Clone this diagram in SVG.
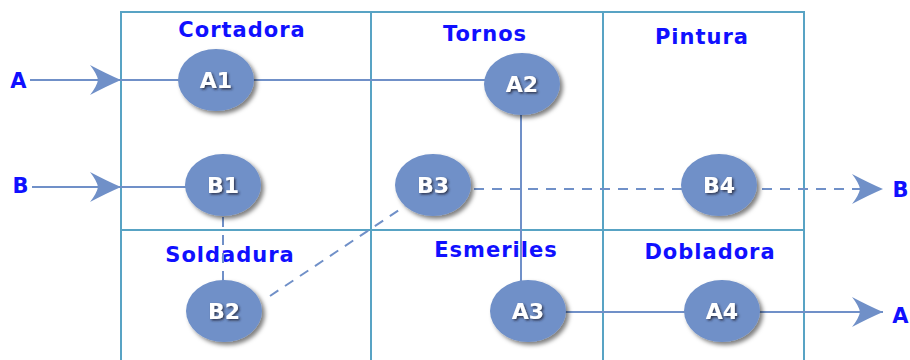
<svg xmlns="http://www.w3.org/2000/svg" width="910" height="360" viewBox="0 0 910 360">
<defs>
<style>
.grid{stroke:#58a3c4;stroke-width:2;fill:none}
.con{stroke:#7090c8;stroke-width:2;fill:none}
.dash{stroke-dasharray:10 8}
.lbl{font-family:"DejaVu Sans",sans-serif;font-weight:bold;font-size:21px;fill:#1010ff;letter-spacing:1px;text-anchor:middle}
.nd{fill:#7090c8;filter:url(#sh)}
.nt{font-family:"DejaVu Sans",sans-serif;font-weight:bold;font-size:22px;fill:#ffffff;text-anchor:middle;filter:url(#ts)}
</style>
<filter id="sh" x="-30%" y="-30%" width="170%" height="170%">
<feDropShadow dx="3" dy="3" stdDeviation="2" flood-color="#000" flood-opacity="0.5"/>
</filter>
<filter id="ts" x="-30%" y="-30%" width="170%" height="170%">
<feDropShadow dx="1.5" dy="1.5" stdDeviation="1" flood-color="#223" flood-opacity="0.8"/>
</filter>
<marker id="arr" markerUnits="userSpaceOnUse" markerWidth="34" markerHeight="34" refX="32" refY="16" orient="auto" viewBox="0 0 34 34">
<path d="M32,16 Q18,10 1,1 Q8,10 9,16 Q8,22 1,31 Q18,22 32,16 Z" fill="#7090c8"/>
</marker>
</defs>
<g id="grid">
<path class="grid" d="M121,360 V12 H804 V360 M371,12 V360 M603,12 V360 M121,230 H804"/>
</g>
<g id="labels">
<text class="lbl" x="242" y="37">Cortadora</text>
<text class="lbl" x="485" y="41">Tornos</text>
<text class="lbl" x="702" y="44">Pintura</text>
<text class="lbl" x="230" y="262">Soldadura</text>
<text class="lbl" x="496" y="257">Esmeriles</text>
<text class="lbl" x="710" y="259">Dobladora</text>
<text class="lbl" x="19" y="88">A</text>
<text class="lbl" x="21" y="193">B</text>
<text class="lbl" x="901" y="197">B</text>
<text class="lbl" x="901" y="323">A</text>
</g>
<g id="connectors">
<line class="con" x1="30" y1="80" x2="121" y2="80" marker-end="url(#arr)"/>
<line class="con" x1="121" y1="80" x2="490" y2="80"/>
<line class="con" x1="521" y1="110" x2="521" y2="285"/>
<line class="con" x1="560" y1="312" x2="700" y2="312"/>
<line class="con" x1="740" y1="312" x2="883" y2="312" marker-end="url(#arr)"/>
<line class="con" x1="32" y1="187" x2="121" y2="187" marker-end="url(#arr)"/>
<line class="con" x1="121" y1="187" x2="200" y2="187"/>
<line class="con dash" x1="223" y1="217" x2="223" y2="282"/>
<line class="con dash" x1="270" y1="296" x2="405" y2="206"/>
<line class="con dash" x1="474" y1="189" x2="683" y2="189"/>
<line class="con dash" x1="762" y1="189" x2="883" y2="189" marker-end="url(#arr)"/>
</g>
<g id="A1"><ellipse class="nd" cx="216" cy="80" rx="38" ry="31"/><text class="nt" x="216" y="88">A1</text></g>
<g id="A2"><ellipse class="nd" cx="522" cy="84" rx="38" ry="31"/><text class="nt" x="522" y="92">A2</text></g>
<g id="B1"><ellipse class="nd" cx="223" cy="185" rx="38" ry="31"/><text class="nt" x="223" y="193">B1</text></g>
<g id="B2"><ellipse class="nd" cx="224" cy="311" rx="38" ry="31"/><text class="nt" x="224" y="319">B2</text></g>
<g id="B3"><ellipse class="nd" cx="433" cy="185" rx="38" ry="31"/><text class="nt" x="433" y="193">B3</text></g>
<g id="B4"><ellipse class="nd" cx="719" cy="185" rx="38" ry="31"/><text class="nt" x="719" y="193">B4</text></g>
<g id="A3"><ellipse class="nd" cx="528" cy="311" rx="38" ry="31"/><text class="nt" x="528" y="319">A3</text></g>
<g id="A4"><ellipse class="nd" cx="722" cy="311" rx="38" ry="31"/><text class="nt" x="722" y="319">A4</text></g>
</svg>
